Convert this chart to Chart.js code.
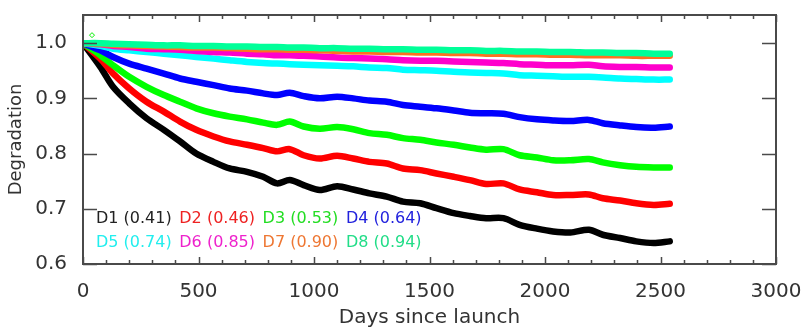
<!DOCTYPE html>
<html>
<head>
<meta charset="utf-8">
<script src="https://cdn.jsdelivr.net/npm/chart.js@4.4.1/dist/chart.umd.min.js"></script>
<style>
  html, body { margin: 0; padding: 0; background: #fff; }
  #wrap { width: 804px; height: 327px; }
</style>
</head>
<body>
<div id="wrap"><canvas id="myChart" width="804" height="327"></canvas></div>
<script>
// days since launch (shared sampling for all detectors)
var days = [0, 75, 130, 200, 275, 350, 420, 490, 565, 635, 710, 780, 840, 895, 955, 1025, 1100, 1170,
  1240, 1315, 1385, 1460, 1530, 1605, 1675, 1745, 1820, 1890, 1965, 2035, 2110, 2190, 2250, 2325, 2395, 2470, 2540];

var d1 = [1.0, 0.957, 0.921, 0.891, 0.864, 0.843, 0.822, 0.800, 0.785, 0.773, 0.767, 0.758, 0.746, 0.752, 0.743, 0.734, 0.741, 0.735,
  0.728, 0.722, 0.713, 0.710, 0.701, 0.692, 0.687, 0.683, 0.683, 0.671, 0.664, 0.659, 0.657, 0.662, 0.653, 0.647, 0.641, 0.638, 0.641];
var d2 = [1.0, 0.972, 0.945, 0.918, 0.894, 0.876, 0.858, 0.843, 0.831, 0.822, 0.816, 0.810, 0.804, 0.808, 0.797, 0.791, 0.796, 0.791,
  0.785, 0.782, 0.773, 0.770, 0.764, 0.758, 0.752, 0.745, 0.746, 0.735, 0.730, 0.725, 0.725, 0.726, 0.719, 0.715, 0.710, 0.707, 0.709];
var d3 = [1.0, 0.978, 0.960, 0.939, 0.921, 0.906, 0.894, 0.882, 0.873, 0.867, 0.862, 0.856, 0.852, 0.858, 0.849, 0.845, 0.848, 0.844,
  0.837, 0.834, 0.828, 0.825, 0.820, 0.816, 0.811, 0.807, 0.808, 0.797, 0.793, 0.788, 0.788, 0.790, 0.784, 0.779, 0.776, 0.775, 0.775];
var d4 = [1.0, 0.987, 0.975, 0.963, 0.954, 0.945, 0.936, 0.930, 0.924, 0.918, 0.914, 0.909, 0.906, 0.910, 0.904, 0.900, 0.903, 0.900,
  0.896, 0.894, 0.888, 0.885, 0.882, 0.878, 0.874, 0.873, 0.872, 0.866, 0.862, 0.860, 0.859, 0.861, 0.855, 0.851, 0.848, 0.847, 0.849];
var d5 = [1.0, 0.995, 0.990, 0.987, 0.984, 0.981, 0.978, 0.975, 0.972, 0.969, 0.966, 0.964, 0.963, 0.962, 0.961, 0.960, 0.959, 0.958,
  0.956, 0.955, 0.952, 0.951, 0.950, 0.948, 0.947, 0.946, 0.945, 0.942, 0.941, 0.940, 0.939, 0.939, 0.938, 0.936, 0.935, 0.934, 0.934];
var d6 = [1.0, 0.998, 0.995, 0.993, 0.990, 0.989, 0.988, 0.986, 0.984, 0.983, 0.981, 0.980, 0.978, 0.978, 0.977, 0.976, 0.974, 0.973,
  0.972, 0.971, 0.969, 0.968, 0.968, 0.967, 0.966, 0.965, 0.964, 0.962, 0.961, 0.960, 0.960, 0.961, 0.958, 0.957, 0.957, 0.956, 0.956];
var d7 = [1.0, 0.999, 0.997, 0.996, 0.995, 0.994, 0.993, 0.992, 0.992, 0.991, 0.990, 0.989, 0.989, 0.988, 0.988, 0.987, 0.986, 0.985,
  0.985, 0.984, 0.984, 0.983, 0.983, 0.982, 0.982, 0.981, 0.981, 0.980, 0.980, 0.979, 0.979, 0.978, 0.978, 0.978, 0.977, 0.977, 0.977];
var d8 = [1.0, 1.0, 0.999, 0.998, 0.997, 0.996, 0.996, 0.995, 0.995, 0.994, 0.994, 0.993, 0.993, 0.992, 0.992, 0.991, 0.991, 0.990,
  0.990, 0.989, 0.989, 0.988, 0.988, 0.987, 0.987, 0.986, 0.986, 0.985, 0.985, 0.984, 0.984, 0.983, 0.983, 0.982, 0.982, 0.981, 0.981];

var names = ['D1', 'D2', 'D3', 'D4', 'D5', 'D6', 'D7', 'D8'];
var coeffs = ['0.41', '0.46', '0.53', '0.64', '0.74', '0.85', '0.90', '0.94'];
var series = [d1, d2, d3, d4, d5, d6, d7, d8];

// lone marker near the start
var markerDay = [39];
var markerVal = [1.0145];

var xTicks = [0, 500, 1000, 1500, 2000, 2500, 3000];
var yTicks = [0.6, 0.7, 0.8, 0.9, 1.0];

var lineColors = ['#000000', '#ff0000', '#00ff00', '#0000ff', '#00ffff', '#ff00cc', '#ff7020', '#00ff99'];
var textColors = ['#222222', '#ee2222', '#22dd22', '#2222dd', '#22eeee', '#ee22cc', '#ee7733', '#22dd88'];

var datasets = series.map(function (vals, i) {
  return {
    label: names[i],
    data: days.map(function (d, k) { return { x: d, y: vals[k] }; }),
    borderColor: lineColors[i],
    borderWidth: 6.5,
    pointRadius: 0,
    tension: 0.3,
    borderCapStyle: 'round',
    borderJoinStyle: 'round',
    fill: false,
    order: 9 - i
  };
});
datasets.push({
  label: 'mark',
  type: 'scatter',
  data: markerDay.map(function (d, k) { return { x: d, y: markerVal[k] }; }),
  pointStyle: 'rectRot',
  pointRadius: 2.5,
  borderColor: '#00ee00',
  backgroundColor: '#ffffff',
  borderWidth: 1,
  order: 0
});

var frameColor = '#4a4a4a';

// box frame with inward ticks, plus the in-plot key
var framePlugin = {
  id: 'frame',
  afterDatasetsDraw: function (chart) {
    var c = chart.ctx, a = chart.chartArea;
    var xs = chart.scales.x, ys = chart.scales.y;
    c.save();
    c.strokeStyle = frameColor;
    c.lineWidth = 2;
    c.strokeRect(a.left, a.top, a.right - a.left, a.bottom - a.top);
    c.lineWidth = 1.5;
    c.beginPath();
    for (var v = 0; v <= 3000; v += 100) {
      var px = Math.round(xs.getPixelForValue(v)) + 0.5;
      var len = (v % 500 === 0) ? 7 : 4;
      c.moveTo(px, a.bottom); c.lineTo(px, a.bottom - len);
      c.moveTo(px, a.top); c.lineTo(px, a.top + len);
    }
    yTicks.forEach(function (t) {
      var py = Math.round(ys.getPixelForValue(t)) + 0.5;
      c.moveTo(a.left, py); c.lineTo(a.left + 14, py);
      c.moveTo(a.right, py); c.lineTo(a.right - 14, py);
    });
    c.stroke();

    // key text
    c.font = '16px "DejaVu Sans"';
    c.textBaseline = 'middle';
    c.textAlign = 'left';
    for (var i = 0; i < names.length; i++) {
      var col = i % 4, row = Math.floor(i / 4);
      c.fillStyle = textColors[i];
      c.fillText(names[i] + ' (' + coeffs[i] + ')', 96 + col * 83.3, 219 + row * 24);
    }
    c.restore();
  }
};

// stop tick label sizes from pushing the plot area around
function noPad(s) {
  s.paddingTop = 0; s.paddingBottom = 0; s.paddingLeft = 0; s.paddingRight = 0;
}

var ctx = document.getElementById('myChart').getContext('2d');
var myChart = new Chart(ctx, {
  type: 'line',
  data: { datasets: datasets },
  options: {
    responsive: false,
    animation: false,
    layout: { padding: { top: 15, right: 28, left: 0, bottom: 0 } },
    plugins: {
      legend: { display: false },
      tooltip: { enabled: false }
    },
    scales: {
      x: {
        type: 'linear',
        min: 0,
        max: 3000,
        afterBuildTicks: function (s) { s.ticks = xTicks.map(function (v) { return { value: v }; }); },
        afterFit: function (s) { s.height = 63; noPad(s); },
        grid: { display: false, drawTicks: false },
        border: { display: false },
        ticks: {
          padding: 16,
          maxRotation: 0,
          color: '#333',
          font: { family: 'DejaVu Sans', size: 20 },
          callback: function (v) { return String(v); }
        },
        title: {
          display: true,
          text: 'Days since launch',
          color: '#333',
          font: { family: 'DejaVu Sans', size: 20 },
          padding: { top: 0, bottom: -3 }
        }
      },
      y: {
        type: 'linear',
        min: 0.6,
        max: 1.051,
        afterBuildTicks: function (s) { s.ticks = yTicks.map(function (v) { return { value: v }; }); },
        afterFit: function (s) { s.width = 83; noPad(s); },
        grid: { display: false, drawTicks: false },
        border: { display: false },
        ticks: {
          padding: 16,
          color: '#333',
          font: { family: 'DejaVu Sans', size: 20 },
          callback: function (v) { return Number(v).toFixed(1); }
        },
        title: {
          display: true,
          text: 'Degradation',
          color: '#333',
          font: { family: 'DejaVu Sans', size: 18 },
          padding: { top: 6, bottom: 0 }
        }
      }
    }
  },
  plugins: [framePlugin]
});
</script>
</body>
</html>
